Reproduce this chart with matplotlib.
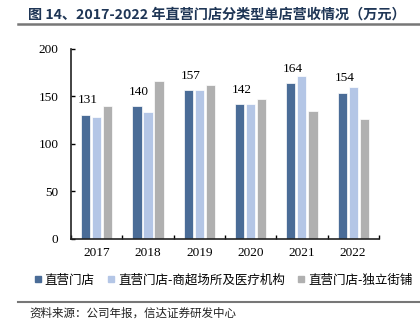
import numpy as np
import matplotlib
matplotlib.use("Agg")
import matplotlib.pyplot as plt
from matplotlib.lines import Line2D

plt.rcParams['font.family'] = ['Noto Sans CJK SC', 'DejaVu Sans']

years = ['2017', '2018', '2019', '2020', '2021', '2022']
series_names = ['直营门店', '直营门店-商超场所及医疗机构', '直营门店-独立街铺']
total = [131, 140, 157, 142, 164, 154]
mall_medical = [128, 134, 157, 142, 172, 160]
street = [140, 166, 162, 147, 135, 126]
colors = ['#4a6c97', '#b4c6e6', '#b0b0b0']

fig = plt.figure(figsize=(4.2, 3.31), dpi=100)
ax = fig.add_axes([0.169, 0.278, 0.733, 0.574])

x = np.arange(len(years))
w = 0.18
step = 0.215
for k, vals in enumerate([total, mall_medical, street]):
    ax.bar(x + (k - 1) * step, vals, width=w, color=colors[k],
           edgecolor='white', linewidth=0.5, zorder=2)

# only the first series carries value labels
for xi, v in zip(x - step, total):
    ax.annotate(str(v), (xi, v), xytext=(1.5, 6), textcoords='offset points',
                ha='center', va='bottom', fontsize=9.5, family='Liberation Serif')

ax.set_xlim(-0.5, 5.5)
ax.set_ylim(0, 200)
ax.set_yticks([0, 50, 100, 150, 200])
ax.set_xticks(x)
ax.set_xticklabels(years)
ax.set_xticks(np.arange(-0.5, 5.6, 1), minor=True)
ax.tick_params(axis='x', which='major', length=0, pad=6)
ax.tick_params(axis='x', which='minor', length=3, direction='in', width=1)
ax.tick_params(axis='y', length=3, direction='in', width=1, pad=9)
for lab in ax.get_xticklabels() + ax.get_yticklabels():
    lab.set_family('Liberation Serif')
    lab.set_fontsize(9.5)
for s in ['top', 'right']:
    ax.spines[s].set_visible(False)
for s in ['left', 'bottom']:
    ax.spines[s].set_linewidth(1.2)
    ax.spines[s].set_color('#222222')

handles = [Line2D([], [], marker='s', linestyle='none', markersize=5,
                  markerfacecolor=c, markeredgecolor=c) for c in colors]
fig.legend(handles, series_names, loc='center', bbox_to_anchor=(0.53, 0.153),
           ncol=3, frameon=False, fontsize=9, handletextpad=0.15,
           columnspacing=0.9, handlelength=0.8)

fig.text(0.067, 0.955, '图 14、2017-2022 年直营门店分类型单店营收情况（万元）',
         fontsize=10.2, fontweight='bold', color='#1f3656', va='center', ha='left')
fig.add_artist(Line2D([0.043, 1.0], [0.927, 0.927], color='#777777', linewidth=1.8))
fig.add_artist(Line2D([0.043, 1.0], [0.087, 0.087], color='#777777', linewidth=1.5))
fig.text(0.069, 0.054, '资料来源：公司年报，信达证券研发中心', fontsize=8.3,
         color='#222222', va='center', ha='left')

fig.savefig('out.png', dpi=100)
